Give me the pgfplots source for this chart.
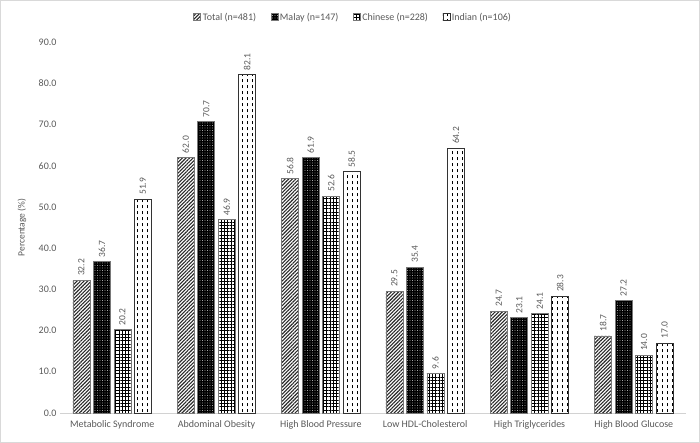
\documentclass[border=0pt]{standalone}
\usepackage{pgfplots}
\pgfplotsset{compat=1.18}
\usepackage{pgfplotstable}
\usepackage{fontspec}
\setmainfont{Carlito}
\usetikzlibrary{patterns,patterns.meta}
\definecolor{txt}{RGB}{89,89,89}
\definecolor{brd}{RGB}{120,120,120}
\definecolor{hatchc}{RGB}{40,40,40}
\pgfdeclarepatternformonly{vdash}{\pgfqpoint{-1pt}{-1pt}}{\pgfqpoint{6pt}{7pt}}{\pgfqpoint{5pt}{6pt}}{%
  \pgfsetlinewidth{0.8pt}%
  \pgfpathmoveto{\pgfqpoint{2.5pt}{0.5pt}}%
  \pgfpathlineto{\pgfqpoint{2.5pt}{4pt}}%
  \pgfusepath{stroke}}

\pgfplotstableread{
x total malay chinese indian
0 32.2 36.7 20.2 51.9
1 62.0 70.7 46.9 82.1
2 56.8 61.9 52.6 58.5
3 29.5 35.4 9.6 64.2
4 24.7 23.1 24.1 28.3
5 18.7 27.2 14.0 17.0
}\datatable

\begin{document}
\begin{tikzpicture}
\path[use as bounding box] (-60pt,-30pt) rectangle (640pt,413pt);
\draw[gray!30, line width=0.75pt] (-59.6pt,-29.6pt) rectangle (639.6pt,412.6pt);
\begin{axis}[
  scale only axis, width=626pt, height=371pt,
  at={(0pt,0pt)}, anchor=south west,
  /pgf/number format/assume math mode=true,
  xmin=-0.5, xmax=5.5, ymin=0, ymax=90,
  ybar=3.5pt, bar width=17pt,
  xtick={0,...,5},
  xticklabels={Metabolic Syndrome, Abdominal Obesity, High Blood Pressure, Low HDL-Cholesterol, High Triglycerides, High Blood Glucose},
  ytick={0,10,...,90},
  yticklabel={\pgfmathprintnumber[fixed,fixed zerofill,precision=1,assume math mode=true]{\tick}},
  axis x line*=bottom, axis y line*=left,
  x axis line style={draw=gray!35, line width=0.75pt},
  y axis line style={draw=none},
  tick style={draw=none},
  tick label style={font=\fontsize{10}{12}\selectfont, color=txt},
  ylabel={Percentage (\%)},
  every axis y label/.style={at={(axis description cs:-0.0607,0.5)}, rotate=90, anchor=center, font=\fontsize{9.5}{11}\selectfont, color=txt},
  clip=false,
  nodes near coords={\pgfmathprintnumber[fixed,fixed zerofill,precision=1,assume math mode=true]{\pgfplotspointmeta}},
  every node near coord/.append style={rotate=90, anchor=west, font=\fontsize{9.5}{11}\selectfont, color=txt, inner sep=4pt},
  legend style={at={(0.468,1.067)}, anchor=center, legend columns=-1, draw=none, fill=none,
    font=\fontsize{10}{12}\selectfont, text=txt,
    /tikz/every even column/.append style={column sep=13pt},
    nodes={inner sep=1.5pt}},
  legend image code/.code={\draw[#1] (0pt,-3.5pt) rectangle (7pt,3.5pt);},
]
\addplot[draw=brd, line width=0.8pt, fill=white, postaction={pattern={Lines[angle=45,distance=2.5pt,line width=1.1pt]}, pattern color=hatchc}] table[x=x,y=total] {\datatable};
\addplot[draw=brd, line width=0.8pt, fill=black, postaction={pattern={Dots[distance=2.5pt,radius=0.45pt]}, pattern color=white}] table[x=x,y=malay] {\datatable};
\addplot[draw=brd, line width=0.8pt, fill=white, postaction={pattern={Hatch[distance=3.3pt,line width=0.6pt]}, pattern color=black}] table[x=x,y=chinese] {\datatable};
\addplot[draw=black!80, line width=0.8pt, fill=white, postaction={pattern=vdash, pattern color=black}] table[x=x,y=indian] {\datatable};
\legend{Total (n=481), Malay (n=147), Chinese (n=228), Indian (n=106)}
\end{axis}
\end{tikzpicture}
\end{document}
